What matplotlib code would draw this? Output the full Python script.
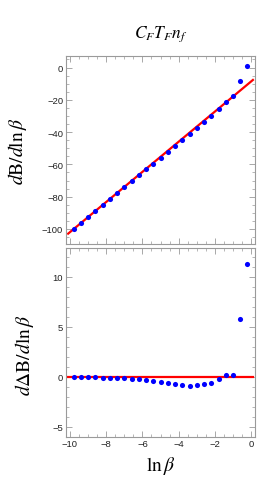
import matplotlib
matplotlib.use('Agg')
import matplotlib.pyplot as plt
from matplotlib.ticker import MultipleLocator

plt.rcParams['font.family'] = ['Liberation Sans', 'DejaVu Sans']
plt.rcParams['mathtext.fontset'] = 'stix'

# datos
ln_beta = [-9.8, -9.4, -9.0, -8.6, -8.2, -7.8, -7.4, -7.0, -6.6, -6.2, -5.8, -5.4, -5.0,
           -4.6, -4.2, -3.8, -3.4, -3.0, -2.6, -2.2, -1.8, -1.4, -1.0, -0.6, -0.2]
dB = [-100.2, -96.5, -92.7, -89.0, -85.3, -81.6, -77.9, -74.1, -70.4, -66.8, -63.1, -59.5,
      -55.9, -52.2, -48.6, -44.9, -41.3, -37.5, -33.7, -29.8, -25.7, -21.5, -17.8, -8.2, 1.2]
dDeltaB = [-0.07, -0.07, -0.07, -0.03, -0.1, -0.13, -0.13, -0.13, -0.2, -0.27, -0.37, -0.47,
           -0.57, -0.67, -0.77, -0.83, -0.9, -0.87, -0.77, -0.6, -0.27, 0.17, 0.17, 5.8, 11.3]

# recta de ajuste (extremos)
fit_x = [-10.1, 0.1]
fit_top = [-102.9, -7.7]
fit_bot = [0.0, 0.0]

frame_col = '#9a9a9a'

fig = plt.figure(figsize=(2.66, 4.89), dpi=100)
ax1 = fig.add_axes([0.248, 0.500, 0.711, 0.383])
ax2 = fig.add_axes([0.248, 0.1053, 0.711, 0.3855])


def estilo(ax, major_y, minor_y):
    for s in ax.spines.values():
        s.set_color(frame_col)
        s.set_linewidth(0.8)
    ax.xaxis.set_major_locator(MultipleLocator(2))
    ax.xaxis.set_minor_locator(MultipleLocator(0.5))
    ax.yaxis.set_major_locator(MultipleLocator(major_y))
    ax.yaxis.set_minor_locator(MultipleLocator(minor_y))
    ax.tick_params(which='both', direction='in', top=True, right=True,
                   color=frame_col, labelsize=6.8, labelcolor='#222222', pad=2)
    ax.tick_params(which='major', length=4, width=0.6)
    ax.tick_params(which='minor', length=2, width=0.5)
    ax.set_xlim(-10.22, 0.22)


ax1.plot(fit_x, fit_top, color='red', lw=1.6, zorder=2)
ax1.plot(ln_beta, dB, 'o', color='blue', ms=3.7, mew=0, zorder=3)
ax1.set_ylim(-109, 7)
estilo(ax1, 20, 5)
ax1.tick_params(labelbottom=False)
ax1.set_ylabel(r'$d\mathrm{B}/d\ln\beta$', fontsize=14)
ax1.yaxis.set_label_coords(-0.195, 0.5)
ax1.set_title(r'$C_F T_F n_f$', fontsize=12.5, pad=14)

ax2.plot(fit_x, fit_bot, color='red', lw=1.6, zorder=2)
ax2.plot(ln_beta, dDeltaB, 'o', color='blue', ms=3.7, mew=0, zorder=3)
ax2.set_ylim(-5.97, 12.86)
estilo(ax2, 5, 1)
ax2.set_ylabel(r'$d\Delta\mathrm{B}/d\ln\beta$', fontsize=14)
ax2.yaxis.set_label_coords(-0.16, 0.434)
ax2.set_xlabel(r'$\ln\beta$', fontsize=14, labelpad=4)

plt.savefig('out.png', dpi=100)
plt.close()
